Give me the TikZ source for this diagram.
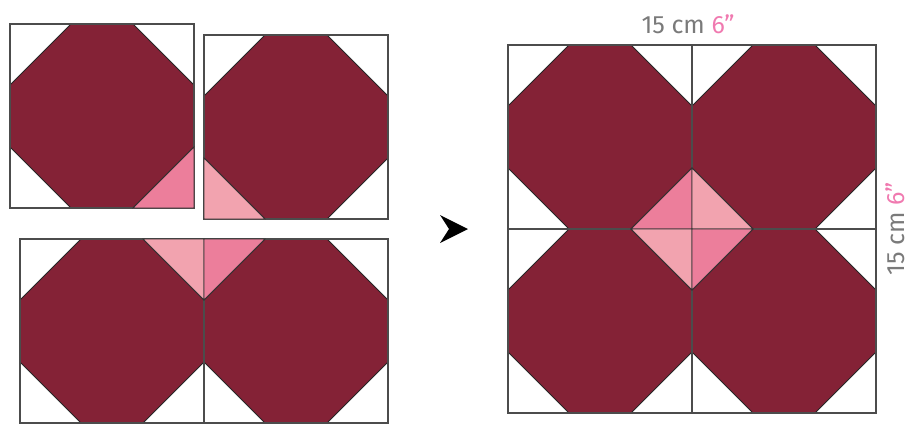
\documentclass[tikz,border=0pt]{standalone}
\usepackage{fontspec}
\setsansfont{Fira Sans}
\definecolor{maroon}{HTML}{842236}
\definecolor{rosedark}{HTML}{EC7E9B}
\definecolor{roselight}{HTML}{F2A3AF}
\definecolor{label}{HTML}{7A7A7A}
\definecolor{inch}{HTML}{F07AB0}

\begin{document}
\begin{tikzpicture}[x=1pt,y=-1pt,
 frame/.style={draw=black!70,line width=1.3pt},
 octo/.style={fill=maroon,draw=black!85,line width=0.8pt},
 size/.style={font=\sffamily\fontsize{25}{25}\selectfont,text=label,inner sep=0pt},
 pics/snowball/.style={code={
   \draw[octo] (61,0)--(123,0)--(184,61)--(184,123)--(123,184)--(61,184)--(0,123)--(0,61)--cycle;
   \draw[frame] (0,0) rectangle (184,184);}},
 pics/patch/.style={code={
   \filldraw[fill=#1,draw=black!80,line width=0.8pt] (0,0)--(-61,0)--(0,-61)--cycle;}}]
\useasboundingbox (0,0) rectangle (912,424);
% separate blocks
\foreach \p in {(10,24),(204,35),(20,239),(204,239)}
  \pic at \p {snowball};
\pic at (194,208) {patch=rosedark};
\pic[xscale=-1] at (204,219) {patch=roselight};
\pic[yscale=-1] at (204,239) {patch=roselight};
\pic[xscale=-1,yscale=-1] at (204,239) {patch=rosedark};
% arrow
\fill (440,215)--(468,229)--(440,243)--(449,229)--cycle;
% joined quilt
\foreach \p in {(508,45),(692,45),(508,229),(692,229)}
  \pic at \p {snowball};
\foreach \sx/\sy/\col in {1/1/rosedark,-1/1/roselight,1/-1/roselight,-1/-1/rosedark}
  \pic[xscale=\sx,yscale=\sy] at (692,229) {patch=\col};
\node[size] (width) at (688,24) {15 cm \textcolor{inch}{6"}};
\node[size,rotate=90] (height) at (895,229) {15 cm \textcolor{inch}{6"}};
\end{tikzpicture}
\end{document}
